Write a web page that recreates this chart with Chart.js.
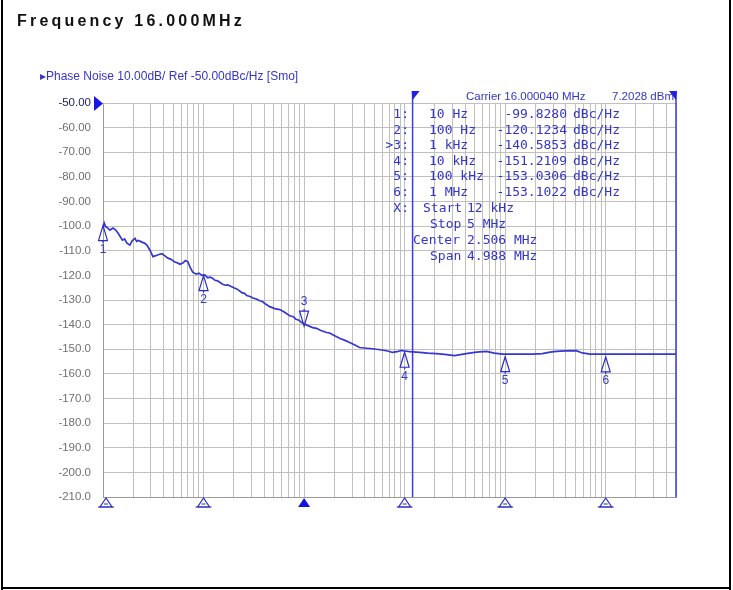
<!DOCTYPE html>
<html>
<head>
<meta charset="utf-8">
<script src="https://cdn.jsdelivr.net/npm/chart.js@4.4.1/dist/chart.umd.min.js"></script>
<style>
html,body{margin:0;padding:0;background:#fff;}
canvas{display:block;}
</style>
</head>
<body>
<canvas id="c" width="733" height="590"></canvas>
<script>
// ---- data ----
const titleText = "Frequency 16.000MHz";
const subtitleText = "\u25B8Phase Noise 10.00dB/ Ref -50.00dBc/Hz [Smo]";
const carrierText = "Carrier 16.000040 MHz";
const carrierPower = "7.2028 dBm";

const freqHz = [10, 10.3, 10.6, 11, 11.7, 12.6, 13.3, 14.1, 15.6, 16.4, 17.3, 18.5, 19.5, 20.8, 21.6, 22.5, 24.4, 25.8, 27.3, 29.3, 31.4, 33.5, 36, 38.5, 41, 44.2, 47, 51.9, 55, 58, 62.2, 66, 69.9, 74, 78, 85, 90, 96.2, 103, 110, 116, 124, 130, 138, 145, 155, 165, 174, 182, 200, 214, 228, 240, 255, 269, 290, 310, 335, 362, 385, 410, 455, 510, 573, 640, 719, 780, 830, 890, 946, 1080, 1217, 1330, 1450, 1675, 1800, 1950, 2255, 2550, 2836, 3200, 3565, 4200, 4800, 5700, 6610, 7590, 8400, 9310, 10000, 11190, 14070, 17000, 20750, 25000, 31330, 37000, 44150, 52000, 65060, 78000, 93800, 120000, 148200, 190000, 234000, 280000, 322000, 400000, 509000, 584000, 700000, 923000, 1000000, 1360000, 2000000, 3000000, 5000000];
const phaseNoise = [-100.5, -98.8, -100.2, -100.5, -101.6, -100.8, -101.5, -102.8, -105.7, -105.2, -106.9, -107.7, -106.0, -105.0, -106.2, -105.8, -106.5, -106.9, -107.7, -109.8, -112.4, -112.0, -111.5, -111.2, -112.0, -113.0, -113.4, -114.6, -114.9, -115.5, -115.0, -114.0, -114.5, -117.0, -118.7, -119.5, -119.1, -120.0, -119.8, -121.0, -120.7, -121.3, -122.0, -122.2, -122.8, -123.6, -124.0, -123.9, -124.2, -125.0, -125.5, -126.3, -127.0, -127.3, -128.2, -128.6, -129.2, -129.6, -130.3, -130.6, -131.5, -132.7, -133.5, -133.9, -135.0, -136.4, -136.8, -137.8, -138.2, -139.2, -140.3, -141.2, -141.5, -142.3, -143.2, -143.4, -144.2, -145.5, -146.4, -147.3, -148.3, -149.3, -149.6, -149.8, -150.2, -150.6, -151.3, -151.0, -150.5, -150.7, -151.0, -151.3, -151.6, -151.8, -152.1, -152.6, -152.1, -151.6, -151.2, -150.9, -151.6, -152.0, -152.0, -152.0, -152.0, -151.8, -151.2, -150.9, -150.7, -150.6, -151.5, -152.0, -152.0, -152.0, -152.0, -152.0, -152.0, -152.0];

const markerFreqs = [10, 100, 1000, 10000, 100000, 1000000];
const markerFreqLabels = ["10 Hz", "100 Hz", "1 kHz", "10 kHz", "100 kHz", "1 MHz"];
const markerValues = [-99.8280, -120.1234, -140.5853, -151.2109, -153.0306, -153.1022];
const activeMarker = 3;

const spanStartHz = 12000;
const spanStopHz = 5000000;
const spanLabels = [["Start", "12 kHz"], ["Stop", "5 MHz"], ["Center", "2.506 MHz"], ["Span", "4.988 MHz"]];

const yMin = -210, yMax = -50, yStep = 10;
const xMin = 10, xMax = 5000000;

// ---- drawing ----
const BLUE = '#3434c8';
const TRACE = '#3636d4';
const MONO = '13px "DejaVu Sans Mono", monospace';

function spacedText(ctx, txt, x, y, sp) {
  let cx = x;
  for (const ch of txt) { ctx.fillText(ch, cx, y); cx += ctx.measureText(ch).width + sp; }
}

const overlay = {
  id: 'overlay',
  afterDraw(chart) {
    const ctx = chart.ctx, xs = chart.scales.x, ys = chart.scales.y, ca = chart.chartArea;
    ctx.save();
    // frame
    ctx.fillStyle = '#000';
    ctx.fillRect(1, 0, 2, 590);
    ctx.fillRect(729, 0, 2, 590);
    ctx.fillRect(1, 587, 730, 2);
    // title
    ctx.fillStyle = '#111';
    ctx.font = 'bold 16px "Liberation Sans", Arial, sans-serif';
    ctx.textBaseline = 'alphabetic';
    ctx.textAlign = 'left';
    spacedText(ctx, titleText, 17, 26, 3.2);
    // subtitle
    ctx.fillStyle = BLUE;
    ctx.font = '12px "Liberation Sans", Arial, sans-serif';
    ctx.textBaseline = 'middle';
    ctx.fillText(subtitleText, 40, 77);
    // reference pointer
    ctx.fillStyle = '#1616e6';
    ctx.beginPath();
    ctx.moveTo(94, 96); ctx.lineTo(94, 111); ctx.lineTo(103, 103.5); ctx.closePath(); ctx.fill();
    // span lines
    const xs1 = xs.getPixelForValue(spanStartHz), xs2 = xs.getPixelForValue(spanStopHz);
    ctx.strokeStyle = '#3b3be4'; ctx.lineWidth = 1.5;
    ctx.beginPath(); ctx.moveTo(xs1, 92); ctx.lineTo(xs1, ca.bottom);
    ctx.moveTo(xs2, 92); ctx.lineTo(xs2, ca.bottom); ctx.stroke();
    ctx.fillStyle = '#2020e0';
    ctx.beginPath(); ctx.moveTo(xs1 - 1, 91); ctx.lineTo(xs1 + 7, 91); ctx.lineTo(xs1, 100); ctx.closePath(); ctx.fill();
    ctx.beginPath(); ctx.moveTo(xs2 + 1, 91); ctx.lineTo(xs2 - 7, 91); ctx.lineTo(xs2, 100); ctx.closePath(); ctx.fill();
    // carrier line
    ctx.fillStyle = BLUE;
    ctx.font = '11.5px "Liberation Sans", Arial, sans-serif';
    ctx.fillText(carrierText, 466, 97);
    ctx.fillText(carrierPower, 612, 97);
    // marker table
    ctx.font = MONO;
    const row0 = 115, rh = 15.5;
    for (let i = 0; i < markerFreqs.length; i++) {
      const y = row0 + i * rh;
      ctx.textAlign = 'right';
      ctx.fillText((i + 1 === activeMarker ? '>' : '') + (i + 1) + ':', 409, y);
      ctx.textAlign = 'left';
      ctx.fillText(markerFreqLabels[i], 429, y);
      ctx.textAlign = 'right';
      ctx.fillText(markerValues[i].toFixed(4), 567, y);
      ctx.textAlign = 'left';
      ctx.fillText('dBc/Hz', 573, y);
    }
    const yx = row0 + markerFreqs.length * rh + 1;
    ctx.textAlign = 'right';
    ctx.fillText('X:', 409, yx);
    const labX = [423, 430, 413, 430];
    spanLabels.forEach((s, k) => {
      const y = yx + k * 16;
      ctx.textAlign = 'left';
      ctx.fillText(s[0], labX[k], y);
      ctx.fillText(s[1], 467, y);
    });
    // markers on trace
    ctx.strokeStyle = '#2c2cc0'; ctx.lineWidth = 1.2;
    ctx.font = '12px "Liberation Sans", Arial, sans-serif';
    ctx.textAlign = 'center';
    markerFreqs.forEach((f, i) => {
      const px = xs.getPixelForValue(f), py = ys.getPixelForValue(markerValues[i]);
      const inv = (i + 1 === activeMarker);
      const d = inv ? -1 : 1;
      ctx.beginPath();
      ctx.moveTo(px, py); ctx.lineTo(px - 4.5, py + d * 15); ctx.lineTo(px + 4.5, py + d * 15); ctx.closePath();
      ctx.stroke();
      ctx.beginPath(); ctx.moveTo(px, py + d * 15); ctx.lineTo(px, py + d * 17); ctx.stroke();
      ctx.fillStyle = BLUE;
      ctx.fillText(String(i + 1), px, py + d * 24);
    });
    // bottom marker icons
    markerFreqs.forEach((f, i) => {
      const px = xs.getPixelForValue(f) + (i === 0 ? 3 : 0), top = ca.bottom + 1, bot = ca.bottom + 10;
      ctx.beginPath();
      ctx.moveTo(px, top); ctx.lineTo(px - 6, bot); ctx.lineTo(px + 6, bot); ctx.closePath();
      if (i + 1 === activeMarker) { ctx.fillStyle = '#1414e0'; ctx.fill(); }
      else {
        ctx.stroke();
        ctx.beginPath(); ctx.moveTo(px - 8, bot); ctx.lineTo(px + 8, bot);
        ctx.moveTo(px - 2, bot - 3); ctx.lineTo(px + 2, bot - 3); ctx.stroke();
      }
    });
    ctx.restore();
  }
};

Chart.defaults.font.family = '"Liberation Sans", Arial, sans-serif';

new Chart(document.getElementById('c'), {
  type: 'line',
  data: {
    datasets: [{
      data: freqHz.map((f, i) => ({ x: f, y: phaseNoise[i] })),
      borderColor: TRACE,
      borderWidth: 1.7,
      pointRadius: 0,
      tension: 0,
      fill: false
    }]
  },
  options: {
    responsive: false,
    animation: false,
    devicePixelRatio: 1,
    events: [],
    layout: { padding: { top: 103, right: 57, bottom: 93, left: 0 } },
    plugins: { legend: { display: false }, tooltip: { enabled: false }, title: { display: false } },
    scales: {
      x: {
        type: 'logarithmic',
        min: xMin, max: xMax,
        ticks: { display: false, autoSkip: false },
        grid: { color: '#c0c0c0', lineWidth: 1, drawTicks: false },
        border: { display: true, color: '#9a9a9a', width: 1 },
        afterBuildTicks(scale) {
          const arr = [];
          for (let e = 1; e <= 6; e++) for (let m = 1; m <= 9; m++) {
            const v = m * Math.pow(10, e);
            if (v <= xMax) arr.push({ value: v });
          }
          arr.push({ value: xMax });
          scale.ticks = arr;
        },
        afterFit(scale) { scale.height = 0; }
      },
      y: {
        min: yMin, max: yMax,
        ticks: {
          stepSize: yStep, autoSkip: false, padding: 12,
          color: (c) => c.tick && c.tick.value === yMax ? '#222266' : '#707070',
          font: { size: 11.5, family: '"Liberation Sans", Arial, sans-serif' },
          callback: (v) => v > -100 ? Number(v).toFixed(2) : Number(v).toFixed(1)
        },
        grid: { color: '#c0c0c0', lineWidth: 1, drawTicks: false },
        border: { display: true, color: '#9a9a9a', width: 1 },
        afterFit(scale) { scale.width = 103; }
      }
    }
  },
  plugins: [overlay]
});
</script>
</body>
</html>
